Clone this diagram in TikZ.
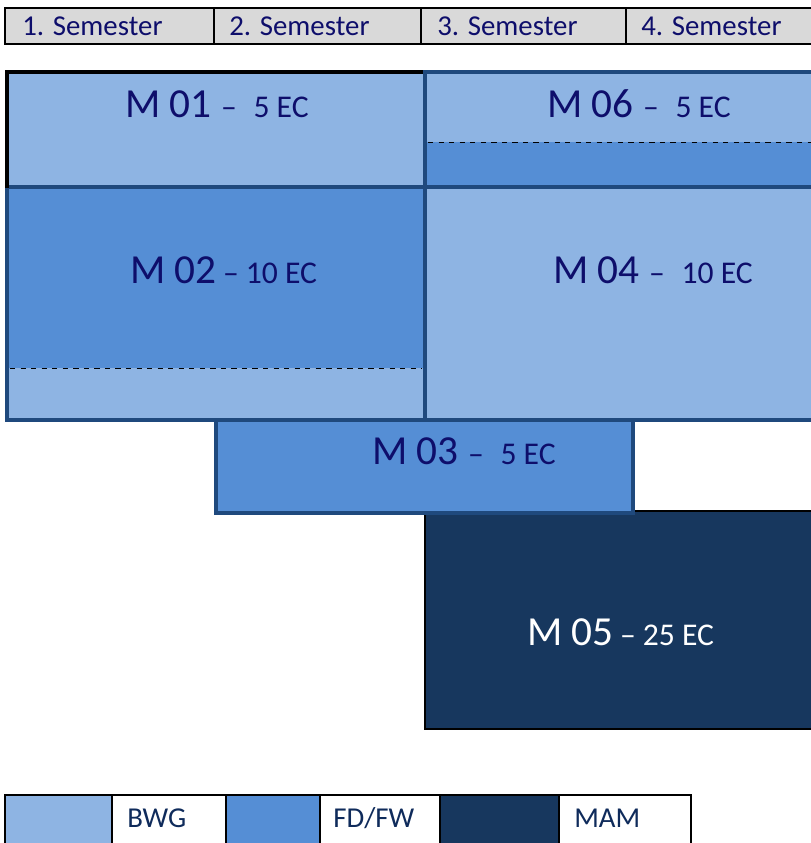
\documentclass[tikz,border=0pt]{standalone}
\usepackage{fontspec}
\setmainfont{Carlito}
\definecolor{lightblue}{HTML}{8EB4E3}
\definecolor{midblue}{HTML}{558ED5}
\definecolor{darkblue}{HTML}{17375E}
\definecolor{edgeblue}{HTML}{1F497D}
\definecolor{headgray}{HTML}{D9D9D9}
\definecolor{navytext}{HTML}{0E0E6B}
\definecolor{legendtext}{HTML}{0F2B5B}
\newcommand{\ecsize}{\fontsize{18}{20}\selectfont}
\begin{document}
\begin{tikzpicture}[x=0.02cm,y=-0.02cm,
    modbox/.style={draw=edgeblue, line width=2.8pt},
    thinbox/.style={draw=black, line width=1.1pt},
    modlabel/.style={anchor=base west, inner sep=0pt, text=navytext, font=\fontsize{23.5}{26}\selectfont},
    semlabel/.style={anchor=base west, inner sep=0pt, text=navytext, font=\fontsize{16.4}{19}\selectfont},
    keylabel/.style={anchor=base west, inner sep=0pt, text=legendtext, font=\fontsize{16.4}{19}\selectfont}]
    \useasboundingbox (0,0) rectangle (811,843);
    \clip (0,0) rectangle (811,843);

    % semester header
    \foreach \i/\xa/\xb in {1/5/214,2/214/421,3/421/626,4/626/830}
        \draw[thinbox, fill=headgray] (\xa,8) rectangle (\xb,44);
    \foreach \i/\xa in {1/22,2/229,3/437,4/641}
        \node[semlabel] (sem\i) at (\xa,35) {\i. Semester};

    % M 05
    \draw[fill=darkblue, draw=black, line width=0.8pt] (425,511) rectangle (830,729);
    \node[modlabel, text=white] (m05) at (527,645) {M 05 \ecsize\hspace{-0.1em}– 25 EC};

    % M 02
    \fill[midblue] (7,187) rectangle (425,368);
    \fill[lightblue] (7,368) rectangle (425,420);
    \draw[dashed, line width=0.4pt] (10,368) -- (422,368);
    \draw[modbox] (7,187) rectangle (425,420);
    \node[modlabel] (m02) at (130,283) {M 02 \ecsize\hspace{-0.1em}– 10 EC};

    % M 04
    \draw[modbox, fill=lightblue] (425,187) rectangle (830,420);
    \node[modlabel] (m04) at (553,283) {M 04 \ecsize– \hspace{0.3em}10 EC};

    % M 03
    \draw[modbox, fill=midblue] (216,420) rectangle (633,513);
    \node[modlabel] (m03) at (372,464) {M 03 \ecsize– \hspace{0.3em}5 EC};

    % M 01
    \draw[modbox, fill=lightblue] (7,72) rectangle (425,187);
    \draw[black, line width=2.3pt] (7,188) -- (7,72) -- (425,72);
    \node[modlabel] (m01) at (125,117) {M 01 \ecsize– \hspace{0.3em}5 EC};

    % M 06
    \fill[lightblue] (425,72) rectangle (830,142);
    \fill[midblue] (425,142) rectangle (830,187);
    \draw[dashed, line width=0.4pt] (428,142) -- (830,142);
    \draw[modbox] (425,72) rectangle (830,187);
    \node[modlabel] (m06) at (547,117) {M 06 \ecsize– \hspace{0.3em}5 EC};

    % legend
    \draw[thinbox, fill=lightblue] (5,795) rectangle (112,850);
    \draw[thinbox, fill=white] (112,795) rectangle (226,850);
    \draw[thinbox, fill=midblue] (226,795) rectangle (320,850);
    \draw[thinbox, fill=white] (320,795) rectangle (440,850);
    \draw[thinbox, fill=darkblue] (440,795) rectangle (559,850);
    \draw[thinbox, fill=white] (559,795) rectangle (691,850);
    \node[keylabel] (bwg) at (127,827) {BWG};
    \node[keylabel] (fdfw) at (333,827) {FD/FW};
    \node[keylabel] (mam) at (574,827) {MAM};
\end{tikzpicture}
\end{document}
